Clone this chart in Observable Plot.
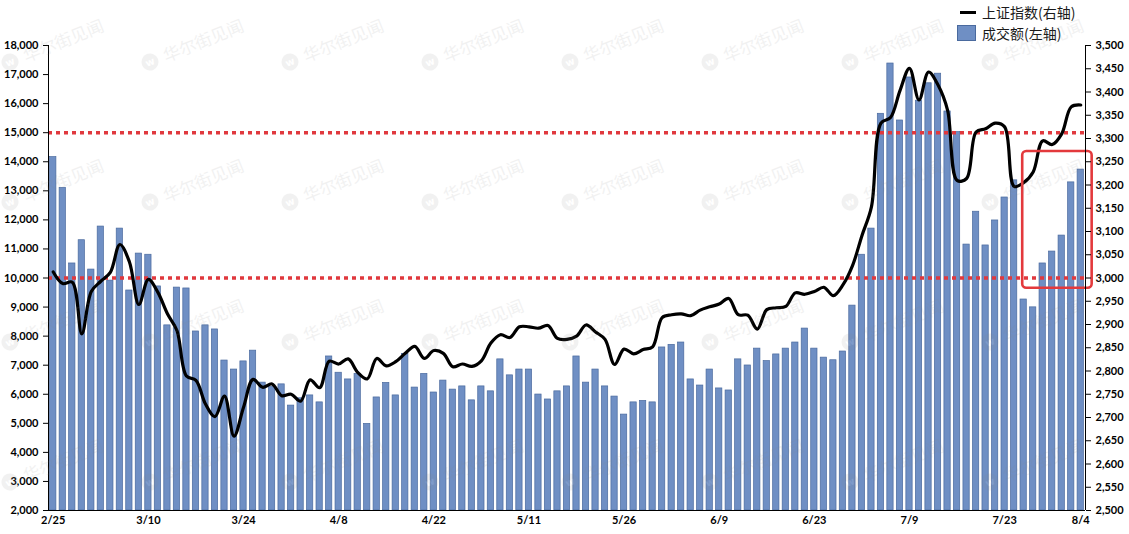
<!DOCTYPE html>
<html>
<head>
<meta charset="utf-8">
<script src="https://cdn.jsdelivr.net/npm/d3@7"></script>
<script src="https://cdn.jsdelivr.net/npm/@observablehq/plot@0.6"></script>
<style>
  html, body { margin: 0; padding: 0; background: #fff; }
  #wrap { position: relative; width: 1129px; height: 534px; overflow: hidden; }
  #legend { position: absolute; left: 0; top: 0; width: 1129px; height: 45px; font-family: "Noto Sans CJK SC", sans-serif; font-size: 14px; color: #1a1a1a; }
  .lg-item { position: absolute; left: 957px; height: 18px; display: flex; align-items: center; }
  .lg-line { width: 16px; height: 3px; background: #000; margin-left: 3px; margin-right: 6px; }
  .lg-box { width: 19px; height: 16px; background: #6f8fc4; border: 1px solid #4a6a9e; box-sizing: border-box; margin-right: 6px; }
  #wm { position: absolute; left: 0; top: 0; pointer-events: none; }
</style>
</head>
<body>
<div id="wrap">
  <div id="chart"></div>
  <div id="legend">
    <div class="lg-item" style="top:3px;"><span class="lg-line"></span><span>上证指数(右轴)</span></div>
    <div class="lg-item" style="top:24px;"><span class="lg-box"></span><span>成交额(左轴)</span></div>
  </div>
</div>
<script>
// Trading days (categories)
const dates = ["2/25","2/26","2/27","2/28","3/2","3/3","3/4","3/5","3/6","3/9","3/10","3/11","3/12","3/13","3/16","3/17","3/18","3/19","3/20","3/23","3/24","3/25","3/26","3/27","3/30","3/31","4/1","4/2","4/3","4/7","4/8","4/9","4/10","4/13","4/14","4/15","4/16","4/17","4/20","4/21","4/22","4/23","4/24","4/27","4/28","4/29","4/30","5/6","5/7","5/8","5/11","5/12","5/13","5/14","5/15","5/18","5/19","5/20","5/21","5/22","5/26","5/27","5/28","5/29","6/1","6/2","6/3","6/4","6/5","6/8","6/9","6/10","6/11","6/12","6/15","6/16","6/17","6/18","6/19","6/22","6/23","6/24","6/29","6/30","7/1","7/2","7/3","7/6","7/7","7/8","7/9","7/10","7/13","7/14","7/15","7/16","7/17","7/20","7/21","7/22","7/23","7/24","7/27","7/28","7/29","7/30","7/31","8/3","8/4"];

// 成交额 (left axis)
const volume = [14160,13100,10500,11300,10290,11770,9910,11700,9570,10840,10800,9710,8370,9670,9640,8160,8370,8230,7160,6850,7130,7500,6400,6250,6340,5610,5860,5960,5720,7300,6740,6510,6700,4980,5890,6390,5960,7390,6230,6700,6060,6470,6160,6270,5790,6270,6100,7200,6650,6850,6850,5990,5820,6100,6270,7300,6400,6850,6270,5920,5300,5720,5770,5720,7610,7700,7780,6510,6300,6850,6200,6130,7200,6990,7570,7140,7370,7570,7780,8260,7570,7260,7170,7470,9050,10800,11700,15650,17380,15420,16900,16100,16700,17030,15730,15020,11150,12280,11120,11980,12770,13360,9260,8990,10500,10910,11460,13290,13730];

// 上证指数 (right axis)
const sse = [3013,2988,2991,2880,2971,2993,3012,3072,3035,2943,2997,2969,2923,2887,2789,2780,2729,2702,2746,2660,2722,2782,2765,2772,2747,2750,2735,2781,2764,2821,2815,2826,2797,2783,2827,2811,2820,2838,2853,2827,2844,2838,2809,2815,2810,2822,2860,2878,2872,2895,2895,2892,2898,2870,2868,2875,2899,2884,2868,2814,2847,2837,2846,2852,2915,2921,2923,2919,2931,2938,2944,2956,2921,2920,2890,2932,2936,2939,2968,2965,2971,2980,2962,2985,3026,3091,3153,3333,3345,3403,3451,3383,3443,3415,3361,3210,3214,3314,3321,3333,3325,3197,3205,3228,3295,3287,3310,3368,3372];

const xTickIndex = [0,10,20,30,40,50,60,70,80,90,100,108];
const leftTicks = [2000,3000,4000,5000,6000,7000,8000,9000,10000,11000,12000,13000,14000,15000,16000,17000,18000];
const rightTicks = [2500,2550,2600,2650,2700,2750,2800,2850,2900,2950,3000,3050,3100,3150,3200,3250,3300,3350,3400,3450,3500];
const refLines = [15000, 10000];
// highlight box: index positions and right-axis values
const highlight = [{x1: 101.9, x2: 109.2, y1: 2978, y2: 3272}];

const leftMin = 2000, leftMax = 18000, rightMin = 2500, rightMax = 3500;
const k = (leftMax - leftMin) / (rightMax - rightMin);
const toLeft = v => leftMin + (v - rightMin) * k;
const toRight = v => rightMin + (v - leftMin) / k;

const rows = volume.map((v, i) => ({i, date: dates[i], vol: v, sse: sse[i]}));
const fmt = d => d3.format(",")(d);

const chart = Plot.plot({
  width: 1129,
  height: 534,
  marginLeft: 48,
  marginRight: 44,
  marginTop: 45,
  marginBottom: 24,
  x: {type: "linear", domain: [-0.5, dates.length - 0.5], axis: null},
  y: {domain: [leftMin, leftMax], axis: null},
  style: {fontFamily: "Lato, 'Noto Sans', sans-serif", fontSize: "11px", fontWeight: "bold", color: "#000", background: "transparent", overflow: "visible"},
  marks: [
    Plot.rect(rows, {x1: d => d.i - 0.33, x2: d => d.i + 0.33, y1: () => leftMin, y2: "vol", fill: "#6f8fc4", stroke: "#4a6a9e", strokeWidth: 0.7}),
    Plot.ruleY(refLines, {stroke: "#e0393e", strokeWidth: 3.5, strokeDasharray: "4 4"}),
    Plot.line(rows, {x: "i", y: d => toLeft(d.sse), curve: "catmull-rom", stroke: "#000", strokeWidth: 3.2}),
    Plot.rect(highlight, {x1: "x1", x2: "x2", y1: d => toLeft(d.y1), y2: d => toLeft(d.y2), fill: "none", stroke: "#e3393c", strokeWidth: 2.6, rx: 4, clip: false}),
    Plot.ruleX([-0.5, dates.length - 0.5], {stroke: "#000", strokeWidth: 1}),
    Plot.ruleY([leftMin], {stroke: "#000", strokeWidth: 1}),
    Plot.axisY(leftTicks, {anchor: "left", tickSize: 5, tickPadding: 5, tickFormat: fmt, label: null}),
    Plot.axisY(rightTicks.map(toLeft), {anchor: "right", tickSize: 5, tickPadding: 5, tickFormat: d => fmt(Math.round(toRight(d))), label: null}),
    Plot.axisX(xTickIndex, {anchor: "bottom", tickSize: 0, tickPadding: 6, tickFormat: i => dates[i], label: null})
  ]
});
document.getElementById("chart").appendChild(chart);

// faint source watermark
const wmCols = [10,150,290,430,570,710,850,990];
const wmRows = [62,202,342,482];
const svg = d3.select("#wrap").append("svg").attr("id", "wm").attr("width", 1129).attr("height", 534);
for (const cy of wmRows) for (const cx of wmCols) {
  const g = svg.append("g").attr("transform", `translate(${cx},${cy}) rotate(-22)`).attr("opacity", 0.11);
  g.append("circle").attr("r", 8.5).attr("fill", "#888");
  g.append("text").attr("text-anchor", "middle").attr("dy", "0.35em").attr("font-size", 10).attr("font-family", "DejaVu Sans").attr("font-weight", "bold").attr("fill", "#fff").text("w");
  g.append("text").attr("x", 15).attr("dy", "0.38em").attr("font-size", 17).attr("font-family", "Noto Sans CJK SC").attr("fill", "#888").text("华尔街见闻");
}
</script>
</body>
</html>
